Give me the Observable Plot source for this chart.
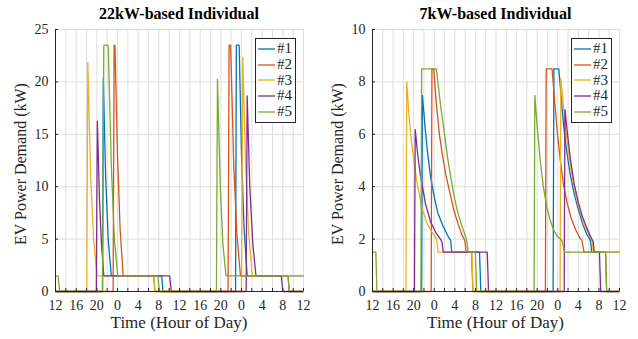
<!DOCTYPE html>
<html><head><meta charset="utf-8">
<script src="https://cdn.jsdelivr.net/npm/d3@7"></script>
<script src="https://cdn.jsdelivr.net/npm/@observablehq/plot@0.6"></script>
<style>
body{margin:0;background:#fff;font-family:"Liberation Serif","Times New Roman",serif;color:#262626;}
#wrap{position:relative;width:638px;height:339px;overflow:hidden;}
#wrap svg, #wrap svg text{font-family:"Liberation Serif","Times New Roman",serif !important;}
.panel{position:absolute;top:0;}
.title{position:absolute;top:5px;font-weight:bold;font-size:16px;color:#000;text-align:center;white-space:nowrap;}
.xlab{position:absolute;top:313px;font-size:17px;text-align:center;white-space:nowrap;}
.ylab{position:absolute;font-size:16px;white-space:nowrap;text-align:center;width:200px;transform-origin:0 0;transform:rotate(-90deg);}
.legend{position:absolute;border:1px solid #262626;background:#fff;padding:2px 3px 2px 2px;}
.legend div{height:15.8px;line-height:15.8px;font-size:15px;display:flex;align-items:center;}
.legend svg{margin-right:2px;}
</style></head>
<body><div id="wrap"></div>
<script>
// ---- data: [hour since 12:00 of day 1, kW] ----
const seriesNames = ["#1","#2","#3","#4","#5"];
const colors = ["#0072BD","#D95319","#EDB120","#7E2F8E","#77AC30"];
const hourTicks = d3.range(0, 49, 2);

const kw22_1 = [[0,0],[9.1,0],[9.25,20.4],[9.7,11],[10.2,5],[10.8,1.5],[20.55,1.5],[20.8,0],[34.85,0],[35.0,23.5],[35.55,23.5],[36.0,13],[36.5,6],[37.1,1.5],[48,1.5]];
const kw22_2 = [[0,0],[11.15,0],[11.35,23.5],[11.5,23.5],[12.0,13],[12.5,6],[13.1,1.5],[19.0,1.5],[19.25,0],[33.4,0],[33.6,23.5],[33.9,23.5],[34.5,12],[35.1,5.5],[35.8,1.5],[45.0,1.5],[45.25,0],[48,0]];
const kw22_3 = [[0,0],[6.05,0],[6.25,21.9],[6.8,11],[7.4,4.8],[8.05,1.5],[19.0,1.5],[19.25,0],[36.0,0],[36.25,22.4],[36.8,12],[37.4,5.5],[38.1,1.5],[48,1.5]];
const kw22_4 = [[0,0],[7.9,0],[8.1,16.3],[8.5,9],[8.9,4.5],[9.35,1.5],[22.1,1.5],[22.4,0],[36.9,0],[37.1,18.7],[37.6,10],[38.2,4.5],[38.8,1.5],[43.7,1.5],[44.0,0],[48,0]];
const kw22_5 = [[0,1.5],[0.5,1.5],[0.8,0],[9.1,0],[9.35,23.5],[10.2,23.5],[10.8,12],[11.4,5],[12.05,1.5],[19.8,1.5],[20.1,0],[31.15,0],[31.35,20.3],[31.9,10],[32.4,4.5],[33.0,1.5],[45.0,1.5],[45.25,0],[48,0]];

const kw7_1 = [[0,0],[9.55,0],[9.7,7.5],[10.2,6.3],[10.7,5.3],[11.2,4.5],[12.0,3.6],[12.7,3.0],[13.7,2.5],[14.7,2.1],[15.2,1.95],[15.4,1.5],[20.8,1.5],[21.05,0],[35.1,0],[35.25,8.5],[36.2,8.5],[36.6,7.6],[37.1,6.4],[37.7,5.4],[38.4,4.5],[39.1,3.8],[39.9,3.2],[40.8,2.6],[41.6,2.2],[42.2,2.0],[42.4,1.9],[42.6,1.5],[48,1.5]];
const kw7_2 = [[0,0],[11.4,0],[11.55,8.5],[11.9,8.5],[12.4,7.2],[13.0,6.0],[13.6,5.2],[14.2,4.5],[15.0,3.8],[15.8,3.1],[16.6,2.6],[17.3,2.2],[17.8,2.0],[18.0,1.9],[18.2,1.5],[19.25,1.5],[19.5,0],[33.6,0],[33.75,8.5],[34.9,8.5],[35.3,7.5],[35.9,6.1],[36.5,5.0],[37.1,4.1],[37.8,3.4],[38.6,2.8],[39.5,2.35],[40.3,2.05],[40.7,1.95],[41.1,1.5],[45.3,1.5],[45.5,0],[48,0]];
const kw7_3 = [[0,0],[6.5,0],[6.65,8.0],[7.1,6.7],[7.6,5.7],[8.1,4.9],[8.6,4.2],[9.6,3.2],[10.6,2.6],[11.6,2.25],[12.2,2.1],[12.5,1.95],[12.75,1.5],[19.3,1.5],[19.55,0],[36.45,0],[36.6,8.15],[37.0,7.3],[37.5,6.3],[38.1,5.3],[38.8,4.4],[39.6,3.6],[40.4,3.0],[41.3,2.5],[42.1,2.15],[42.5,2.0],[42.7,1.9],[42.9,1.5],[48,1.5]];
const kw7_4 = [[0,0],[8.15,0],[8.3,6.2],[8.8,5.2],[9.3,4.45],[10.3,3.35],[11.3,2.65],[12.3,2.25],[13.2,2.0],[13.5,1.9],[13.75,1.5],[22.3,1.5],[22.55,0],[37.25,0],[37.4,6.95],[37.9,6.0],[38.5,5.0],[39.2,4.1],[40.0,3.4],[40.8,2.85],[41.7,2.4],[42.5,2.05],[42.9,1.9],[43.1,1.5],[44.1,1.5],[44.35,0],[48,0]];
const kw7_5 = [[0,1.5],[0.65,1.5],[0.85,0],[9.4,0],[9.55,8.5],[12.4,8.5],[12.7,8.0],[13.3,7.0],[14.0,6.0],[14.6,5.1],[15.3,4.25],[16.0,3.5],[16.6,3.0],[17.3,2.55],[17.9,2.2],[18.3,1.95],[18.6,1.5],[20.0,1.5],[20.25,0],[31.4,0],[31.55,7.5],[32.0,6.3],[32.6,5.0],[33.2,4.0],[33.9,3.2],[34.5,2.75],[35.2,2.35],[35.9,2.1],[36.6,2.0],[36.9,1.9],[37.3,1.5],[45.3,1.5],[45.5,0],[48,0]];

const panels = [
  {title:"22kW-based Individual", series:[kw22_1,kw22_2,kw22_3,kw22_4,kw22_5], yMax:25, yTicks:d3.range(0,26,5), left:0, width:319, mr:16},
  {title:"7kW-based Individual", series:[kw7_1,kw7_2,kw7_3,kw7_4,kw7_5], yMax:10, yTicks:d3.range(0,11,2), left:317, width:321, mr:19}
];

const wrap = document.getElementById("wrap");
const ML = 55, MT = 29, MB = 48;
const ink = "#262626";

panels.forEach(p => {
  const rows = [];
  p.series.forEach((s, i) => s.forEach(([h, v]) => rows.push({h, v, name: seriesNames[i]})));
  const chart = Plot.plot({
    width: p.width, height: 339,
    marginLeft: ML, marginRight: p.mr, marginTop: MT, marginBottom: MB,
    style: {fontFamily: "Liberation Serif, serif", fontSize: "14px", color: ink, background: "#fff"},
    x: {domain: [0, 48]},
    y: {domain: [0, p.yMax]},
    color: {domain: seriesNames, range: colors},
    marks: [
      Plot.gridX(hourTicks, {stroke: "#dedede", strokeOpacity: 1}),
      Plot.gridY(p.yTicks, {stroke: "#dedede", strokeOpacity: 1}),
      Plot.line(rows, {x: "h", y: "v", z: "name", stroke: "name", strokeWidth: 1.3, strokeLinejoin: "miter", strokeLinecap: "butt"}),
      Plot.axisX(hourTicks, {tickSize: -3, tickPadding: 12, stroke: ink, fill: ink, label: null, fontSize: 14,
        tickFormat: d => d % 4 === 0 ? String((d + 12) % 24) : ""}),
      Plot.axisY(p.yTicks, {tickSize: -3, tickPadding: 10, stroke: ink, fill: ink, label: null, fontSize: 14}),
      Plot.ruleX([0], {stroke: ink}),
      Plot.ruleY([0], {stroke: ink})
    ]
  });
  const div = document.createElement("div");
  div.className = "panel";
  div.style.left = p.left + "px";
  div.appendChild(chart);
  wrap.appendChild(div);

  const plotL = p.left + ML, plotR = p.left + p.width - p.mr;
  const t = document.createElement("div");
  t.className = "title"; t.textContent = p.title;
  t.style.left = plotL + "px"; t.style.width = (plotR - plotL) + "px";
  wrap.appendChild(t);

  const xl = document.createElement("div");
  xl.className = "xlab"; xl.textContent = "Time (Hour of Day)";
  xl.style.left = plotL + "px"; xl.style.width = (plotR - plotL) + "px";
  wrap.appendChild(xl);

  const yl = document.createElement("div");
  yl.className = "ylab"; yl.textContent = "EV Power Demand (kW)";
  yl.style.left = (p.left + 12) + "px"; yl.style.top = "264px";
  wrap.appendChild(yl);

  const lg = document.createElement("div");
  lg.className = "legend";
  lg.style.left = (plotR - 48) + "px"; lg.style.top = "38px";
  seriesNames.forEach((n, i) => {
    const r = document.createElement("div");
    r.innerHTML = `<svg width="17" height="4"><line x1="0" y1="2" x2="17" y2="2" stroke="${colors[i]}" stroke-width="1.3"/></svg><span>${n}</span>`;
    lg.appendChild(r);
  });
  wrap.appendChild(lg);
});
</script>
</body></html>
